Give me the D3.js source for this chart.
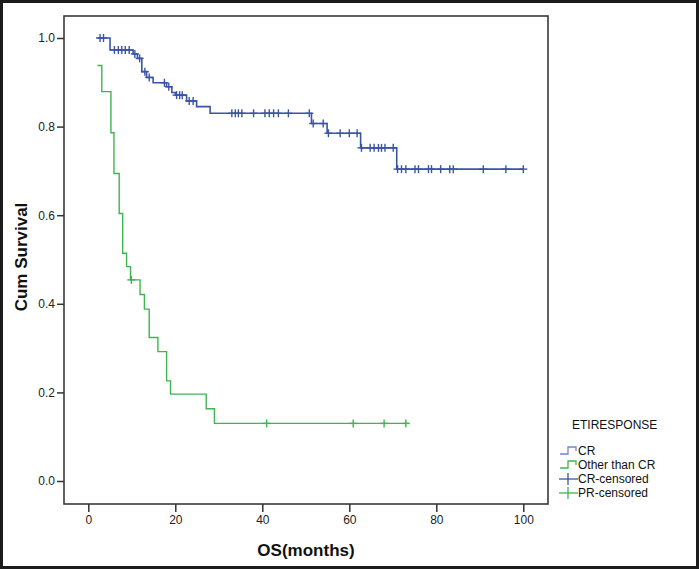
<!DOCTYPE html>
<html>
<head>
<meta charset="utf-8">
<script src="https://cdn.jsdelivr.net/npm/d3@7"></script>
<style>
  html, body { margin: 0; padding: 0; background: #fff; }
  svg { display: block; }
  text { font-family: "Liberation Sans", Arial, sans-serif; }
</style>
</head>
<body>
<script>
// ---------- data ----------
const groups = ["CR", "Other than CR"];
const legendTitle = "ETIRESPONSE";
const legendLabels = ["CR", "Other than CR", "CR-censored", "PR-censored"];
const xTicks = [0, 20, 40, 60, 80, 100];
const yTicks = [0.0, 0.2, 0.4, 0.6, 0.8, 1.0];

// CR group: start time, event steps [time, survival after], censored times, end
const crStart = 2.1;
const crInitial = 1.0;
const crEventTimes = [5.0, 10.3, 11.3, 12.3, 13.4, 14.9, 18.0, 19.2, 20.0, 22.6, 24.9, 28.0, 51.3, 54.9, 62.6, 70.9];
const crEventSurv  = [0.973, 0.964, 0.954, 0.924, 0.911, 0.899, 0.890, 0.877, 0.871, 0.858, 0.845, 0.830, 0.807, 0.785, 0.752, 0.704];
const crCensored = [2.7, 3.5, 6.0, 6.9, 7.7, 8.5, 9.4, 10.7, 11.8, 13.0, 14.0, 17.5, 18.5, 20.3, 21.0, 21.6, 23.2, 24.1,
  33.0, 33.8, 34.5, 35.3, 38.0, 40.6, 41.6, 42.6, 43.7, 46.0, 50.8, 51.7, 54.0, 55.2, 57.9, 60.0, 61.8,
  62.8, 64.8, 65.7, 66.7, 67.4, 68.2, 70.1, 71.1, 72.0, 73.0, 75.1, 75.9, 78.2, 78.9, 81.0, 83.1, 83.9, 90.8, 96.0, 100.0];
const crEnd = 100.0;

// Other than CR group
const otStart = 2.1;
const otInitial = 0.938;
const otEventTimes = [3.1, 5.2, 5.9, 7.1, 7.9, 8.8, 9.7, 11.9, 12.9, 14.0, 16.0, 18.0, 18.9, 27.1, 29.0];
const otEventSurv  = [0.879, 0.786, 0.694, 0.604, 0.514, 0.484, 0.454, 0.421, 0.388, 0.324, 0.292, 0.226, 0.196, 0.163, 0.130];
const otCensored = [9.9, 41.0, 60.9, 68.0, 73.0];
const otEnd = 73.6;

// ---------- layout ----------
const W = 699, H = 569;
const frame = { left: 64, right: 548, top: 16, bottom: 504 };
const blue = "#3b55a5", blueLight = "#6f86c8", green = "#3fb54f";

const svg = d3.select("body").append("svg").attr("width", W).attr("height", H);

// outer dark border
svg.append("rect").attr("x", 0).attr("y", 0).attr("width", W).attr("height", H).attr("fill", "#1c1c1c");
svg.append("rect").attr("x", 3).attr("y", 3).attr("width", W - 6).attr("height", H - 6).attr("fill", "#fff");

const x = d3.scaleLinear().domain([0, 100]).range([88.3, 523.3]);
const y = d3.scaleLinear().domain([0, 1]).range([481, 38]);

// step helpers
function survAt(t, init, times, surv) {
  let s = init;
  for (let i = 0; i < times.length; i++) if (times[i] <= t) s = surv[i];
  return s;
}
function stepPoints(start, init, times, surv, end) {
  const pts = [[start, init]];
  let s = init;
  times.forEach((t, i) => { pts.push([t, s]); pts.push([t, surv[i]]); s = surv[i]; });
  pts.push([end, s]);
  return pts;
}
const line = d3.line().x(d => x(d[0])).y(d => y(d[1]));

// frame
svg.append("rect").attr("x", frame.left).attr("y", frame.top)
  .attr("width", frame.right - frame.left).attr("height", frame.bottom - frame.top)
  .attr("fill", "none").attr("stroke", "#3a3a3a").attr("stroke-width", 1.6);

// axes
const yAxis = svg.append("g").attr("transform", `translate(${frame.left},0)`)
  .call(d3.axisLeft(y).tickValues(yTicks).tickFormat(d3.format(".1f")).tickSize(7).tickPadding(2));
const xAxis = svg.append("g").attr("transform", `translate(0,${frame.bottom})`)
  .call(d3.axisBottom(x).tickValues(xTicks).tickFormat(d3.format("d")).tickSize(8).tickPadding(3));
[yAxis, xAxis].forEach(a => {
  a.select(".domain").remove();
  a.selectAll(".tick line").attr("stroke", "#333").attr("stroke-width", 1.5);
  a.selectAll(".tick text").attr("fill", "#222").style("font-size", "12px")
    .style("font-family", '"Liberation Sans", Arial, sans-serif');
});

// axis titles
svg.append("text").attr("x", 306).attr("y", 556).attr("text-anchor", "middle")
  .style("font-size", "17px").style("font-weight", "bold").attr("fill", "#111").text("OS(months)");
svg.append("text").attr("transform", "translate(27,257) rotate(-90)").attr("text-anchor", "middle")
  .style("font-size", "17px").style("font-weight", "bold").attr("fill", "#111").text("Cum Survival");

// curves
const series = [
  { name: groups[0], color: blue, width: 1.6, start: crStart, init: crInitial, times: crEventTimes, surv: crEventSurv, cens: crCensored, end: crEnd },
  { name: groups[1], color: green, width: 1.4, start: otStart, init: otInitial, times: otEventTimes, surv: otEventSurv, cens: otCensored, end: otEnd }
];
series.forEach(s => {
  svg.append("path").datum(stepPoints(s.start, s.init, s.times, s.surv, s.end))
    .attr("d", line).attr("fill", "none").attr("stroke", s.color).attr("stroke-width", s.width);
  const g = svg.append("g");
  s.cens.forEach(t => {
    const cx = x(t), cy = y(survAt(t, s.init, s.times, s.surv));
    g.append("line").attr("x1", cx).attr("x2", cx).attr("y1", cy - 4).attr("y2", cy + 4)
      .attr("stroke", s.color).attr("stroke-width", 1.4);
    g.append("line").attr("x1", cx - 4).attr("x2", cx + 4).attr("y1", cy).attr("y2", cy)
      .attr("stroke", s.color).attr("stroke-width", 1.4);
  });
});

// legend
const lg = svg.append("g");
lg.append("text").attr("x", 572).attr("y", 429).style("font-size", "12px").attr("fill", "#111").text(legendTitle);
const itemY = [451, 465, 479, 493];
const itemColor = [blueLight, green, blue, green];
legendLabels.forEach((lab, i) => {
  const cy = itemY[i];
  if (i < 2) {
    lg.append("path").attr("d", `M560,${cy + 3}H568V${cy - 4}H576V${cy}`)
      .attr("fill", "none").attr("stroke", itemColor[i]).attr("stroke-width", 1.3);
  } else {
    lg.append("line").attr("x1", 559).attr("x2", 578).attr("y1", cy).attr("y2", cy)
      .attr("stroke", itemColor[i]).attr("stroke-width", 1.3);
    lg.append("line").attr("x1", 568).attr("x2", 568).attr("y1", cy - 6).attr("y2", cy + 6)
      .attr("stroke", itemColor[i]).attr("stroke-width", 1.3);
  }
  lg.append("text").attr("x", 578).attr("y", cy + 4).style("font-size", "12px").attr("fill", "#111").text(lab);
});
</script>
</body>
</html>
